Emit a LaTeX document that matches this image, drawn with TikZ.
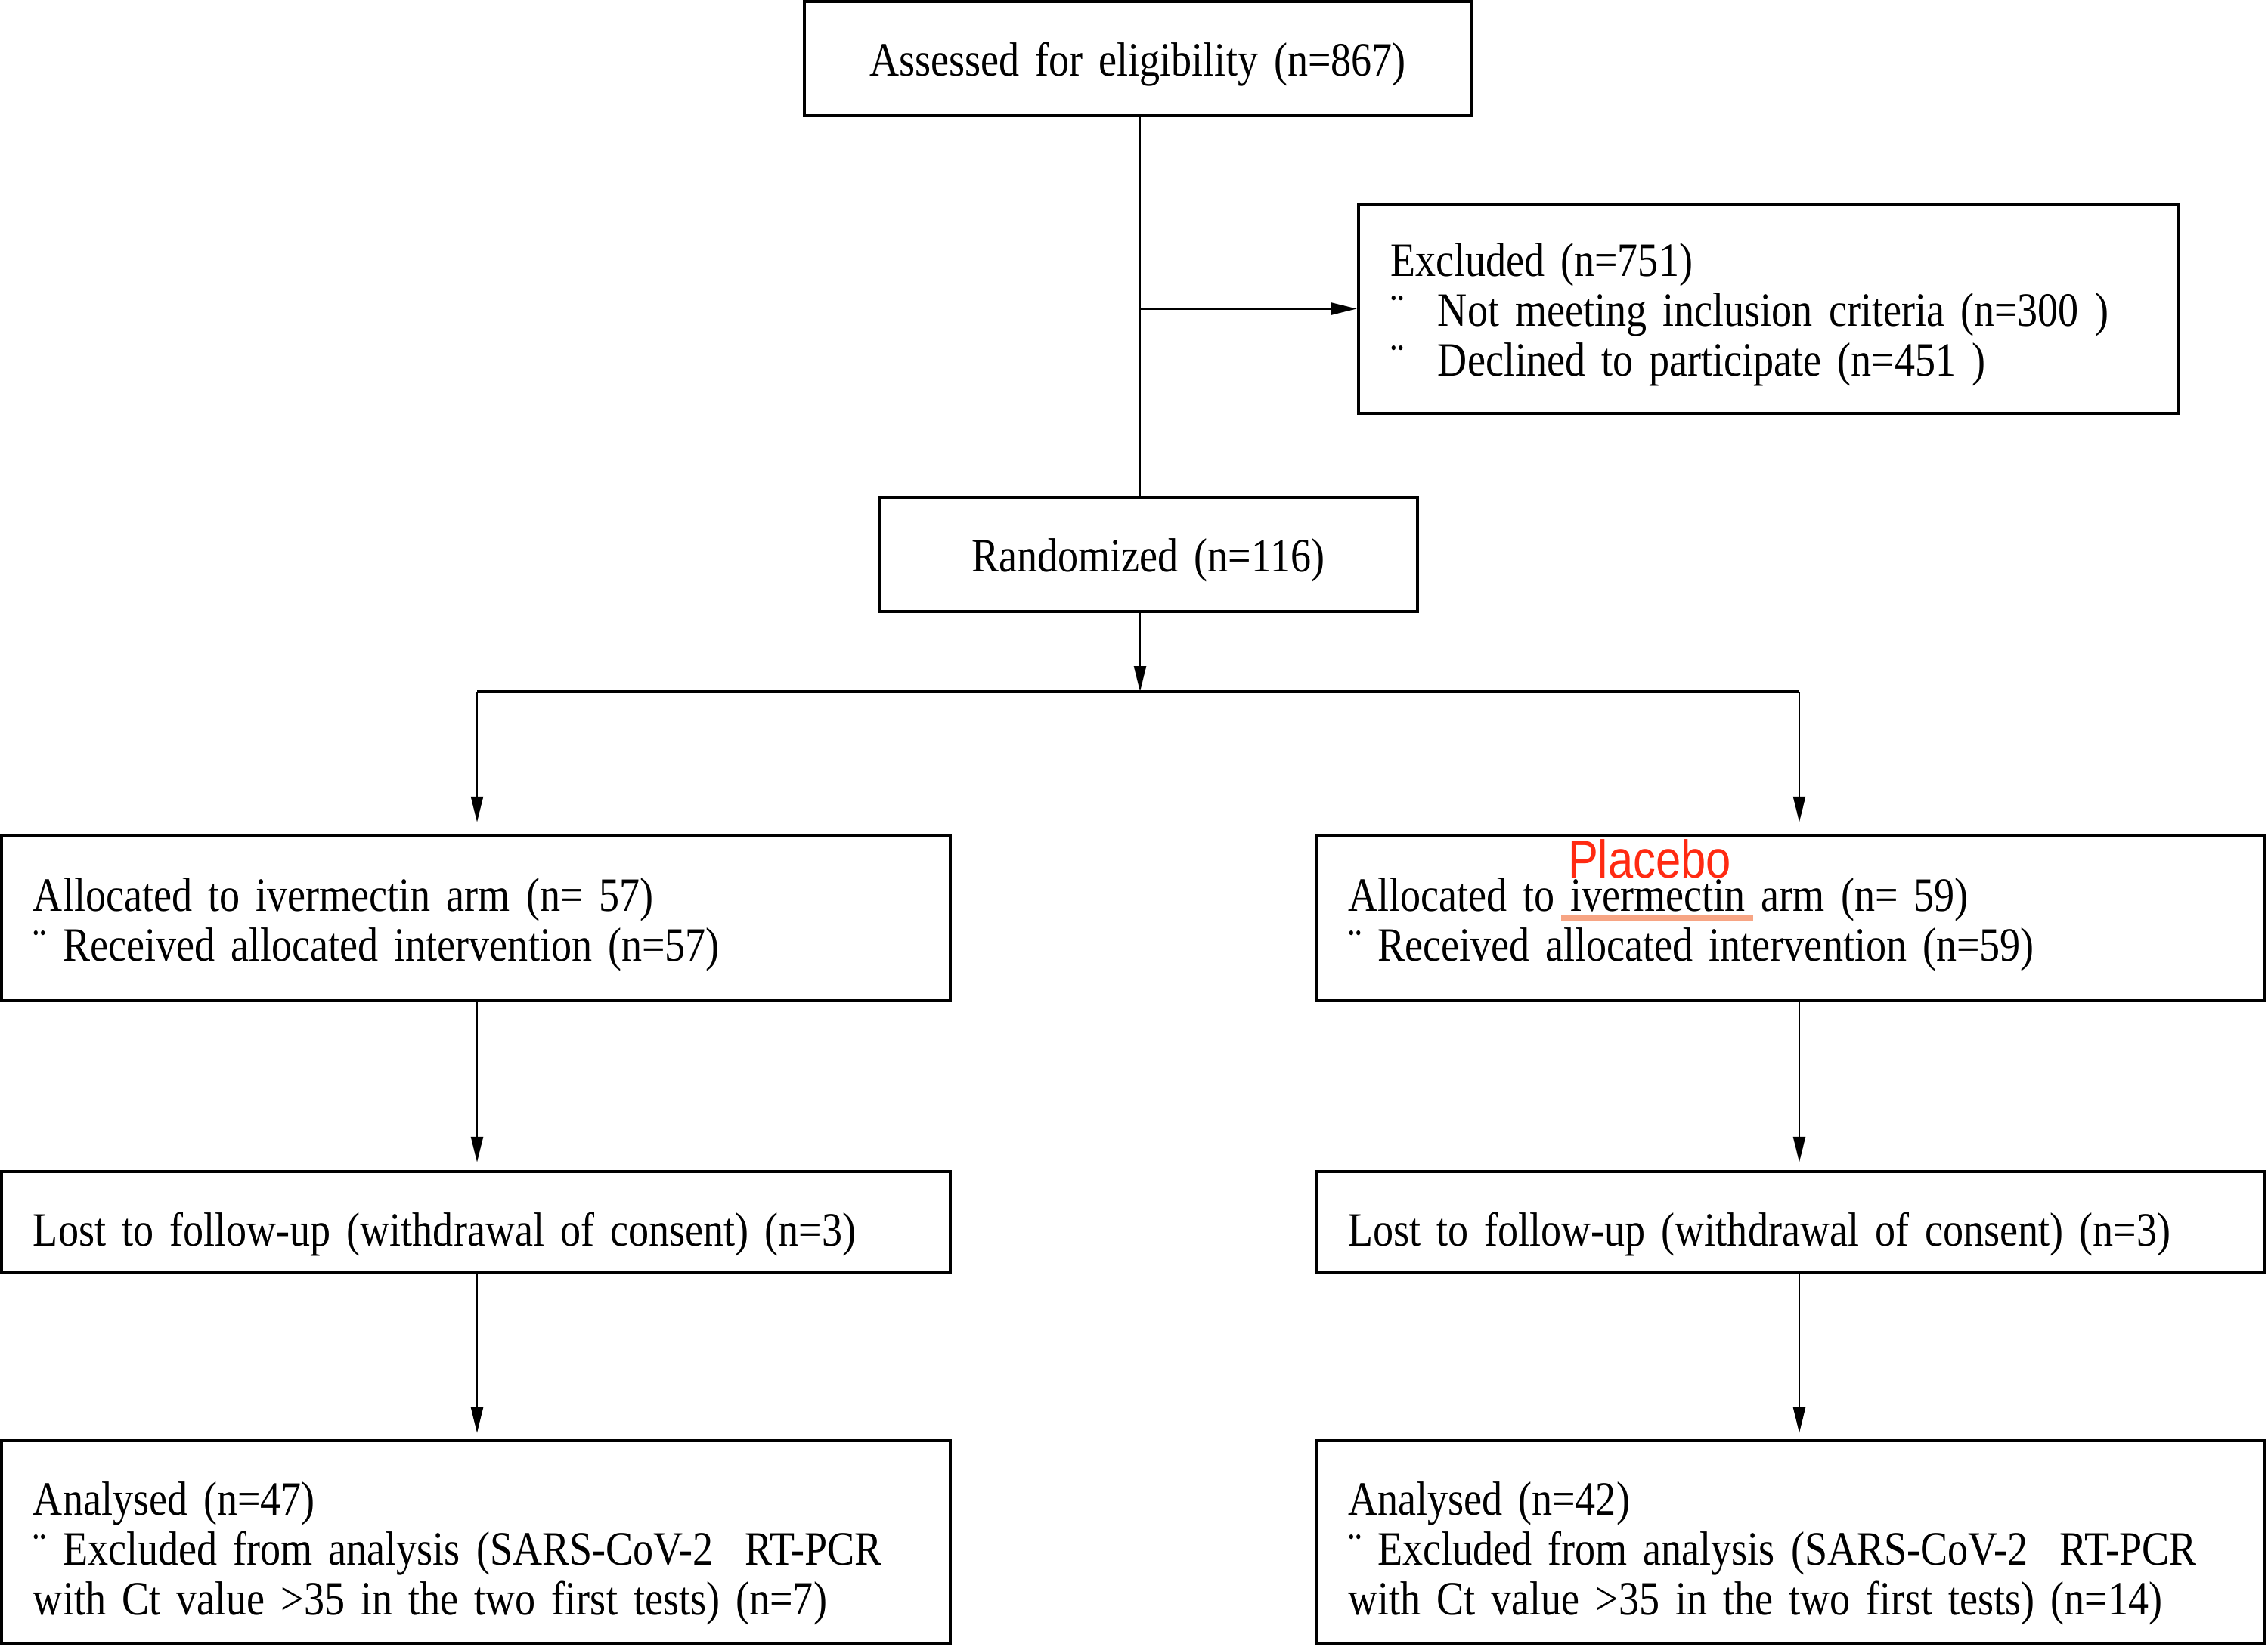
\documentclass[tikz,border=0pt]{standalone}
\usepackage{fontspec}
\setmainfont[FakeStretch=0.855]{Liberation Serif}
\newfontfamily\plfont[FakeStretch=0.85]{Liberation Sans}
\usetikzlibrary{arrows.meta}
\definecolor{plred}{HTML}{FF2A12}
\definecolor{ulsalmon}{HTML}{F7A584}
\newsavebox{\plbox}
\newcommand{\plword}[1]{\sbox{\plbox}{#1}\rlap{\hspace{-3.5pt}\color{ulsalmon}\rule[-3.6pt]{\dimexpr\wd\plbox+6.5pt\relax}{2.2pt}}\rlap{\hspace{-1pt}\raisebox{12.5pt}[0pt][0pt]{\plfont\fontsize{20pt}{20pt}\selectfont\color{plred}Placebo}}\usebox{\plbox}}
\newcommand{\blt}{\makebox[0.63cm][l]{¨}}
\newskip\myspace
\myspace=3.6pt plus 0.5pt minus 0.5pt
\newcommand{\boxfont}{\fontsize{18pt}{18.8pt}\selectfont\spaceskip=\myspace}
\begin{document}
\begin{tikzpicture}[x=1cm,y=1cm,
  boxshift/.style={execute at begin node={\rule{0pt}{#1}}},
  box/.style={draw, line width=0.045cm, rectangle, inner xsep=0.42cm, inner ysep=0pt,
    align=left, font=\boxfont, boxshift=17pt},
  conn/.style={line width=0.025cm},
  arr/.style={conn, -{Triangle[length=0.34cm,width=0.16cm]}}]
\useasboundingbox (0,0) rectangle (30,-21.78);

\node[box, align=center, text width=7.98cm, minimum height=1.51cm] (top) at (15.05,-0.775)
  {Assessed for eligibility (n=867)};
\node[box, text width=10.0cm, minimum height=2.77cm] (excl) at (23.39,-4.085)
  {Excluded (n=751)\\ \blt Not meeting inclusion criteria (n=300 )\\ \blt Declined to participate (n=451 )};
\node[box, align=center, text width=6.28cm, minimum height=1.51cm] (rand) at (15.19,-7.335)
  {Randomized (n=116)};

\node[box, text width=11.71cm, minimum height=2.18cm] (allocL) at (6.295,-12.15)
  {Allocated to ivermectin arm (n= 57)\\ ¨ Received allocated intervention (n=57)};
\node[box, text width=11.71cm, minimum height=2.18cm] (allocR) at (23.685,-12.15)
  {Allocated to \plword{ivermectin} arm (n= 59)\\ ¨ Received allocated intervention (n=59)};

\node[box, boxshift=21.5pt, text width=11.71cm, minimum height=1.34cm] (lostL) at (6.295,-16.17)
  {Lost to follow-up (withdrawal of consent) (n=3)};
\node[box, boxshift=21.5pt, text width=11.71cm, minimum height=1.34cm] (lostR) at (23.685,-16.17)
  {Lost to follow-up (withdrawal of consent) (n=3)};

\node[box, boxshift=21pt, text width=11.71cm, minimum height=2.68cm] (analL) at (6.295,-20.40)
  {Analysed (n=47)\\ ¨ Excluded from analysis (SARS-CoV-2\ \ RT-PCR\\ with Ct value >35 in the two first tests) (n=7)};
\node[box, boxshift=21pt, text width=11.71cm, minimum height=2.68cm] (analR) at (23.685,-20.40)
  {Analysed (n=42)\\ ¨ Excluded from analysis (SARS-CoV-2\ \ RT-PCR\\ with Ct value >35 in the two first tests) (n=14)};

\coordinate (vx) at (15.08,0);
\coordinate (exbr) at (15.08,-4.085);
\coordinate (bar) at (15.08,-9.15);
\coordinate (barL) at (6.31,-9.15);
\coordinate (barR) at (23.80,-9.15);

\draw[conn] (top.south -| vx) -- (rand.north -| vx);
\draw[arr] (exbr) -- (excl.west);
\draw[arr] (rand.south -| vx) -- (bar);
\draw[line width=0.035cm] (barL) -- (barR);
\draw[arr, shorten >=0.16cm] (barL) -- (allocL.north -| barL);
\draw[arr, shorten >=0.16cm] (barR) -- (allocR.north -| barR);
\draw[arr, shorten >=0.1cm] (allocL.south -| barL) -- (lostL.north -| barL);
\draw[arr, shorten >=0.1cm] (allocR.south -| barR) -- (lostR.north -| barR);
\draw[arr, shorten >=0.08cm] (lostL.south -| barL) -- (analL.north -| barL);
\draw[arr, shorten >=0.08cm] (lostR.south -| barR) -- (analR.north -| barR);
\end{tikzpicture}
\end{document}
